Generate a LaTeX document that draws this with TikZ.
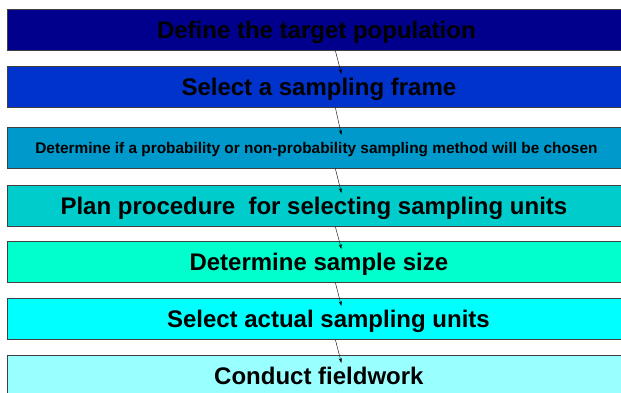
\documentclass[tikz,border=0pt]{standalone}
\usepackage{fontspec}
\setmainfont{Liberation Sans}
\usetikzlibrary{arrows.meta}
\definecolor{c1}{RGB}{0,0,140}
\definecolor{c2}{RGB}{0,51,204}
\definecolor{c3}{RGB}{0,153,204}
\definecolor{c4}{RGB}{0,204,204}
\definecolor{c5}{RGB}{0,255,204}
\definecolor{c6}{RGB}{0,255,255}
\definecolor{c7}{RGB}{153,255,255}
\tikzset{
  stepbox/.style={draw=black!75, line width=0.8pt, rectangle, minimum width=618pt, minimum height=41pt, inner sep=0pt, text depth=0pt, anchor=north west, font=\bfseries\fontsize{24}{26}\selectfont, text=black},
  conn/.style={-{Stealth[length=5pt,width=3pt]}, line width=0.4pt, black}
}
\begin{document}
\begin{tikzpicture}[x=1pt,y=-1pt]
\useasboundingbox (0,0) rectangle (621,392);
\clip (0,0) rectangle (621,392);
\fill[white] (0,0) rectangle (621,392);
\node[stepbox, fill=c1] (a) at (7,9) {Define the target population};
\node[stepbox, fill=c2] (b) at (7,66) {\hspace*{5pt}Select a sampling frame};
\node[stepbox, fill=c3, font=\bfseries\fontsize{15.4}{17}\selectfont] (c) at (7,127) {Determine if a probability or non-probability sampling method will be chosen};
\node[stepbox, fill=c4] (d) at (7,185) {Plan procedure\ \ for selecting sampling units\hspace*{5pt}};
\node[stepbox, fill=c5] (e) at (7,241) {\hspace*{5pt}Determine sample size};
\node[stepbox, fill=c6] (f) at (7,298) {\hspace*{24pt}Select actual sampling units};
\node[stepbox, fill=c7] (g) at (7,355) {\hspace*{5pt}Conduct fieldwork};
\foreach \u/\v in {a/b,b/c,c/d,d/e,e/f,f/g}{
  \draw[conn] ([xshift=19pt]\u.south) -- ([xshift=25pt,yshift=-8pt]\v.north);
}
\end{tikzpicture}
\end{document}
